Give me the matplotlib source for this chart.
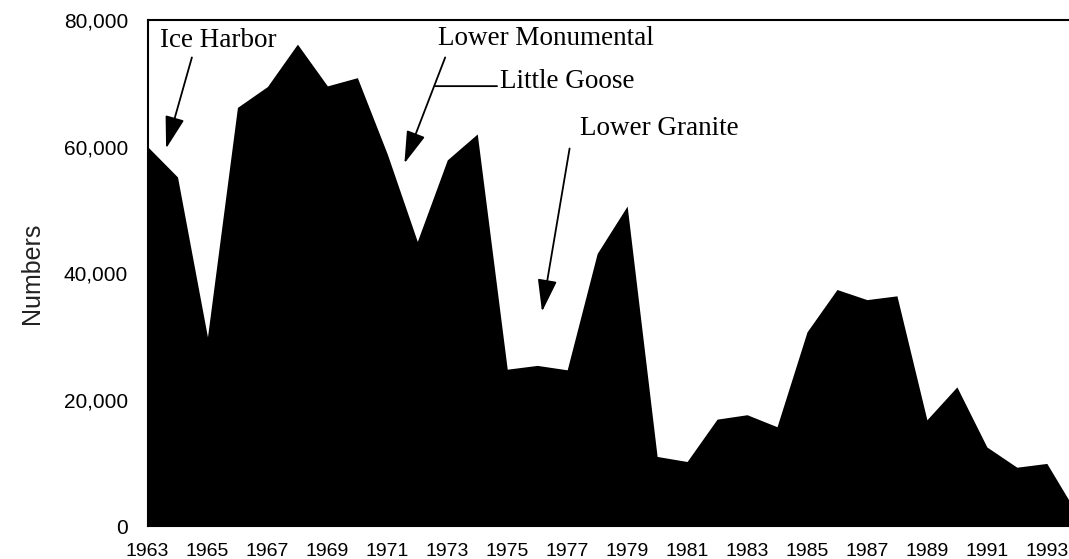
import matplotlib
matplotlib.use('Agg')
import matplotlib.pyplot as plt
from matplotlib.ticker import FuncFormatter

years = list(range(1963, 1995))
numbers = [60000, 55200, 29900, 66200, 69500, 76200, 69600, 70900, 58800, 45000,
           57900, 62000, 24800, 25400, 24700, 43100, 50600, 11000, 10200, 16900,
           17600, 15700, 30700, 37400, 35800, 36400, 16800, 22000, 12500, 9300,
           9900, 2000]
tick_years = list(range(1963, 1994, 2))
y_ticks = [0, 20000, 40000, 60000, 80000]

# dam labels: (text, text pos, arrow start, arrow tip)
dams = [
    ('Ice Harbor', (1963.42, 76800), (1964.48, 74100), (1963.62, 59700)),
    ('Lower Monumental', (1972.7, 77100), (1972.93, 74100), (1971.57, 57350)),
    ('Lower Granite', (1977.43, 62900), (1977.08, 59700), (1976.16, 33900)),
]
goose_text = (1974.76, 70250)
goose_end = (1972.6, 69560)

fig = plt.figure(figsize=(10.69, 5.59), dpi=100)
ax = fig.add_axes([0.138, 0.059, 0.862, 0.905])

ax.fill_between(years, numbers, 0, color='black', linewidth=0)
ax.set_xlim(1963, 1993.74)
ax.set_ylim(0, 80000)

ax.set_xticks(tick_years)
ax.set_yticks(y_ticks)
ax.yaxis.set_major_formatter(FuncFormatter(lambda v, p: f'{int(v):,}'))
ax.tick_params(axis='both', length=0, colors='black')
ax.tick_params(axis='x', pad=12, labelsize=14)
ax.tick_params(axis='y', pad=14, labelsize=15)
for lbl in ax.get_xticklabels() + ax.get_yticklabels():
    lbl.set_family('Liberation Sans')

for side in ['left', 'top', 'bottom']:
    ax.spines[side].set_linewidth(1.5)
ax.spines['right'].set_visible(False)

ax.set_ylabel('Numbers', fontsize=18, family='Liberation Sans', color='#222222')
ax.yaxis.set_label_coords(-0.112, 0.5)

arrow_kw = dict(arrowstyle='-|>,head_length=1.0,head_width=0.3', mutation_scale=20,
                color='black', lw=1.3, shrinkA=0, shrinkB=0)
for name, txt_pos, start, tip in dams:
    ax.text(txt_pos[0], txt_pos[1], name, fontsize=19.5, family='Liberation Serif',
            ha='left', va='center')
    ax.annotate('', xy=tip, xytext=start, arrowprops=arrow_kw)

ax.text(goose_text[0], goose_text[1], 'Little Goose', fontsize=19.5,
        family='Liberation Serif', ha='left', va='center')
ax.annotate('', xy=goose_end, xytext=(goose_text[0] - 0.1, goose_end[1]),
            arrowprops=dict(arrowstyle='-', color='black', lw=1.3,
                            shrinkA=0, shrinkB=0))

plt.savefig('out.png', dpi=100)
plt.close()
